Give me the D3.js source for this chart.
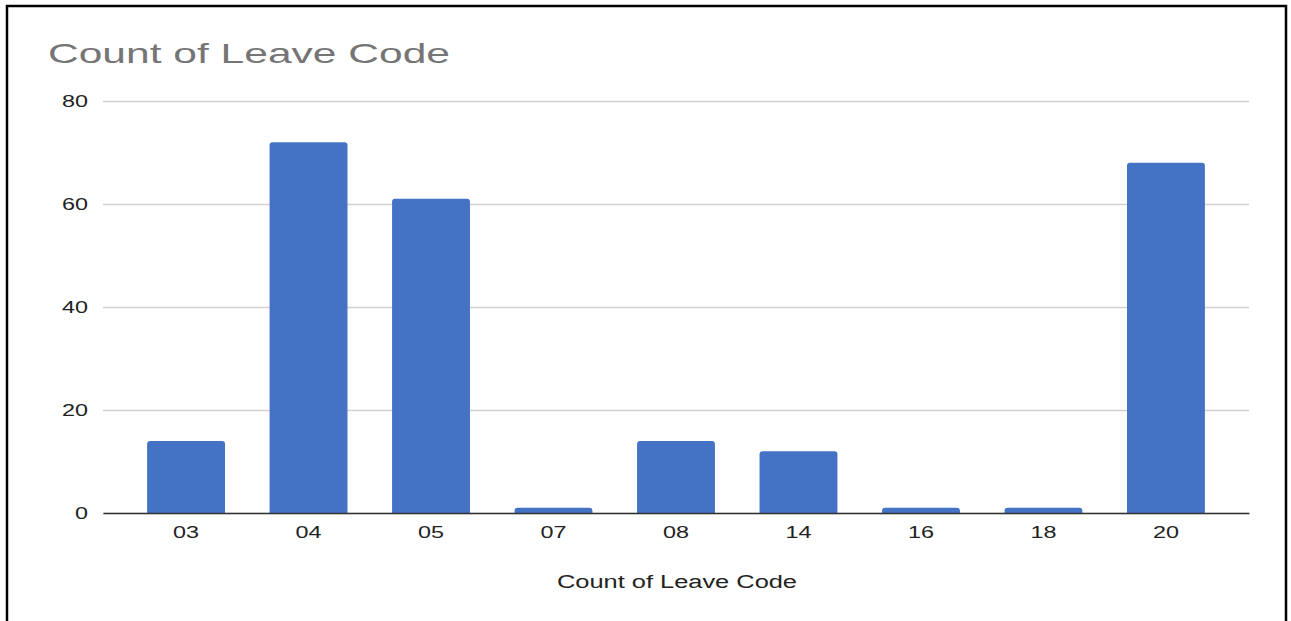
<!DOCTYPE html>
<html>
<head>
<meta charset="utf-8">
<script src="https://cdn.jsdelivr.net/npm/d3@7"></script>
<style>
  body { margin: 0; background: #fff; }
  svg { display: block; font-family: "Liberation Sans", Arial, sans-serif; }
</style>
</head>
<body>
<svg id="chart" width="1291" height="621"></svg>
<script>
// leave codes and their counts
let codes = ["03", "04", "05", "07", "08", "14", "16", "18", "20"];
let counts = [14, 72, 61, 1, 14, 12, 1, 1, 68];
let yTicks = [0, 20, 40, 60, 80];
let titleText = "Count of Leave Code";
let xTitleText = "Count of Leave Code";

let margin = {top: 101, left: 103, right: 42, bottom: 108};
let width = 1291 - margin.left - margin.right,
    height = 621 - margin.top - margin.bottom;

let svg = d3.select("#chart");

// frame round the chart
svg.append("rect")
    .attr("x", 7).attr("y", 6)
    .attr("width", 1279).attr("height", 640)
    .attr("fill", "none")
    .attr("stroke", "#000")
    .attr("stroke-width", 2.5);

svg.append("text")
    .attr("x", 48).attr("y", 63)
    .attr("font-size", 28)
    .attr("fill", "#757575")
    .attr("textLength", 402)
    .attr("lengthAdjust", "spacingAndGlyphs")
    .text(titleText);

let chart = svg.append("g")
    .attr("transform", "translate(" + margin.left + "," + margin.top + ")");

let xScale = d3.scaleBand()
    .domain(codes)
    .range([0, width])
    .paddingInner(0.364)
    .paddingOuter(0.36);

let yScale = d3.scaleLinear()
    .domain([0, 80])
    .range([height, 0]);

// gridlines + y labels
let yAxis = chart.append("g")
    .call(d3.axisLeft(yScale).tickValues(yTicks).tickSize(-width).tickPadding(15));
yAxis.select(".domain").remove();
yAxis.selectAll(".tick line")
    .attr("stroke", "#d0d0d0")
    .attr("stroke-width", 1.5);
yAxis.selectAll(".tick text")
    .attr("font-size", 17)
    .attr("fill", "#222")
    .attr("textLength", d => String(d).length * 13)
    .attr("lengthAdjust", "spacingAndGlyphs");

// bars with slightly rounded tops
function barPath(x, y, w, h, r) {
    r = Math.min(r, h, w / 2);
    return "M" + x + "," + (y + h) +
        "V" + (y + r) +
        "Q" + x + "," + y + " " + (x + r) + "," + y +
        "H" + (x + w - r) +
        "Q" + (x + w) + "," + y + " " + (x + w) + "," + (y + r) +
        "V" + (y + h) + "Z";
}

chart.selectAll(".bar")
    .data(codes)
    .join("path")
    .attr("class", "bar")
    .attr("fill", "#4472c4")
    .attr("d", (c, i) => barPath(xScale(c), yScale(counts[i]), xScale.bandwidth(),
        height - yScale(counts[i]), 3));

// x axis
let xAxis = chart.append("g")
    .attr("transform", "translate(0," + height + ")")
    .call(d3.axisBottom(xScale).tickSize(0).tickPadding(13));
xAxis.select(".domain")
    .attr("stroke", "#333")
    .attr("stroke-width", 1.5);
xAxis.selectAll(".tick text")
    .attr("font-size", 17)
    .attr("fill", "#222")
    .attr("textLength", 26)
    .attr("lengthAdjust", "spacingAndGlyphs");

svg.append("text")
    .attr("x", 677).attr("y", 588)
    .attr("text-anchor", "middle")
    .attr("font-size", 18)
    .attr("fill", "#222")
    .attr("textLength", 240)
    .attr("lengthAdjust", "spacingAndGlyphs")
    .text(xTitleText);
</script>
</body>
</html>
